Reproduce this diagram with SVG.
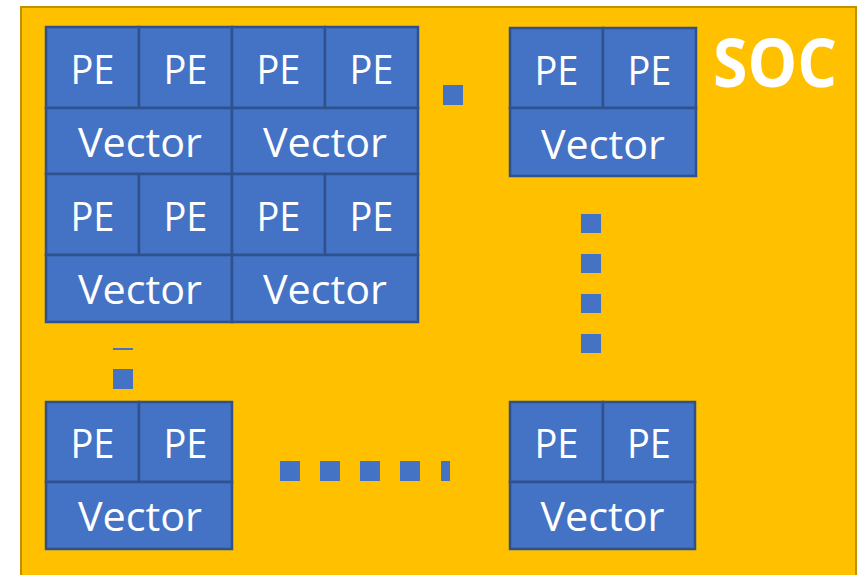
<svg xmlns="http://www.w3.org/2000/svg" width="864" height="575" viewBox="0 0 864 575">
<style>
.soc{fill:#FFC000;stroke:#BF9000;stroke-width:2}
.c{fill:#4472C4;stroke:#2F528F;stroke-width:2.5}
.d{fill:#4472C4}
.t{font-family:"Open Sans","Liberation Sans",sans-serif;font-size:40px;fill:#FFFFFF;text-anchor:middle}
.soct{font-family:"Open Sans","Liberation Sans",sans-serif;font-size:66px;font-weight:bold;fill:#FFFFFF}
</style>
<rect width="864" height="575" fill="#FFFFFF"/>
<g id="soc">
<rect class="soc" x="21" y="7" width="835" height="580"/>
<text class="soct" x="713" y="87" textLength="124" lengthAdjust="spacingAndGlyphs">SOC</text>
</g>
<g id="cluster-top-left">
<rect class="c" x="46" y="27" width="93" height="81"/>
<rect class="c" x="139" y="27" width="93" height="81"/>
<rect class="c" x="232" y="27" width="93" height="81"/>
<rect class="c" x="325" y="27" width="93" height="81"/>
<rect class="c" x="46" y="108" width="186" height="66"/>
<rect class="c" x="232" y="108" width="186" height="66"/>
<rect class="c" x="46" y="174" width="93" height="81"/>
<rect class="c" x="139" y="174" width="93" height="81"/>
<rect class="c" x="232" y="174" width="93" height="81"/>
<rect class="c" x="325" y="174" width="93" height="81"/>
<rect class="c" x="46" y="255" width="186" height="67"/>
<rect class="c" x="232" y="255" width="186" height="67"/>
<text class="t" x="92.5" y="84" textLength="44" lengthAdjust="spacingAndGlyphs">PE</text>
<text class="t" x="185.5" y="84" textLength="44" lengthAdjust="spacingAndGlyphs">PE</text>
<text class="t" x="278.5" y="84" textLength="44" lengthAdjust="spacingAndGlyphs">PE</text>
<text class="t" x="371.5" y="84" textLength="44" lengthAdjust="spacingAndGlyphs">PE</text>
<text class="t" x="140" y="157" textLength="124" lengthAdjust="spacingAndGlyphs">Vector</text>
<text class="t" x="325" y="157" textLength="124" lengthAdjust="spacingAndGlyphs">Vector</text>
<text class="t" x="92.5" y="231" textLength="44" lengthAdjust="spacingAndGlyphs">PE</text>
<text class="t" x="185.5" y="231" textLength="44" lengthAdjust="spacingAndGlyphs">PE</text>
<text class="t" x="278.5" y="231" textLength="44" lengthAdjust="spacingAndGlyphs">PE</text>
<text class="t" x="371.5" y="231" textLength="44" lengthAdjust="spacingAndGlyphs">PE</text>
<text class="t" x="140" y="304" textLength="124" lengthAdjust="spacingAndGlyphs">Vector</text>
<text class="t" x="325" y="304" textLength="124" lengthAdjust="spacingAndGlyphs">Vector</text>
</g>
<g id="cluster-top-right">
<rect class="c" x="510" y="28" width="93" height="80"/>
<rect class="c" x="603" y="28" width="93" height="80"/>
<rect class="c" x="510" y="108" width="186" height="68"/>
<text class="t" x="556.5" y="85" textLength="44" lengthAdjust="spacingAndGlyphs">PE</text>
<text class="t" x="649.5" y="85" textLength="44" lengthAdjust="spacingAndGlyphs">PE</text>
<text class="t" x="603" y="159" textLength="124" lengthAdjust="spacingAndGlyphs">Vector</text>
</g>
<g id="cluster-bottom-left">
<rect class="c" x="46" y="402" width="93" height="80"/>
<rect class="c" x="139" y="402" width="93" height="80"/>
<rect class="c" x="46" y="482" width="186" height="67"/>
<text class="t" x="92.5" y="458" textLength="44" lengthAdjust="spacingAndGlyphs">PE</text>
<text class="t" x="185.5" y="458" textLength="44" lengthAdjust="spacingAndGlyphs">PE</text>
<text class="t" x="140" y="531" textLength="124" lengthAdjust="spacingAndGlyphs">Vector</text>
</g>
<g id="cluster-bottom-right">
<rect class="c" x="510" y="402" width="93" height="80"/>
<rect class="c" x="603" y="402" width="92" height="80"/>
<rect class="c" x="510" y="482" width="185" height="67"/>
<text class="t" x="556.5" y="458" textLength="44" lengthAdjust="spacingAndGlyphs">PE</text>
<text class="t" x="649" y="458" textLength="44" lengthAdjust="spacingAndGlyphs">PE</text>
<text class="t" x="602.5" y="531" textLength="124" lengthAdjust="spacingAndGlyphs">Vector</text>
</g>
<g id="connectors">
<rect class="d" x="443" y="85" width="20" height="20"/>
<rect class="d" x="581" y="214" width="20" height="19"/>
<rect class="d" x="581" y="254" width="20" height="19"/>
<rect class="d" x="581" y="294" width="20" height="19"/>
<rect class="d" x="581" y="334" width="20" height="19"/>
<rect class="d" x="113" y="348" width="20" height="2"/>
<rect class="d" x="113" y="369" width="20" height="20"/>
<rect class="d" x="280" y="461" width="20" height="20"/>
<rect class="d" x="320" y="461" width="20" height="20"/>
<rect class="d" x="360" y="461" width="20" height="20"/>
<rect class="d" x="400" y="461" width="20" height="20"/>
<rect class="d" x="441" y="461" width="9" height="20"/>
</g>
</svg>
